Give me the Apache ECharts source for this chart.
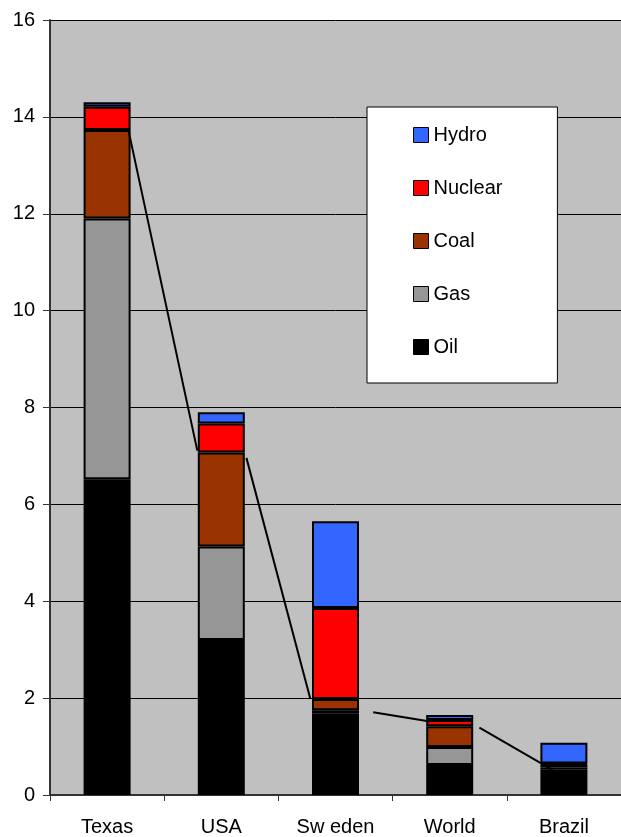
<!DOCTYPE html>
<html>
<head>
<meta charset="utf-8">
<script src="https://cdn.jsdelivr.net/npm/echarts@6/dist/echarts.min.js"></script>
<style>
  html, body { margin: 0; padding: 0; background: #ffffff; }
  #chart { width: 621px; height: 837px; }
</style>
</head>
<body>
<div id="chart"></div>
<script>
// Energy mix per region, stacked from the bottom up
const regions = ['Texas', 'USA', 'Sweden', 'World', 'Brazil'];
const regionLabels = ['Texas', 'USA', 'Sw eden', 'World', 'Brazil'];

const oil     = [6.52, 3.20, 1.69, 0.62, 0.52];
const gas     = [5.38, 1.93, 0.06, 0.37, 0.05];
const coal    = [1.83, 1.94, 0.23, 0.43, 0.06];
const nuclear = [0.48, 0.60, 1.88, 0.13, 0.02];
const hydro   = [0.09, 0.23, 1.79, 0.10, 0.43];

const yTicks = [0, 2, 4, 6, 8, 10, 12, 14, 16];

// Connector strokes between neighbouring bars: [regionIndex, value] start and end
const connectorStart = [[0.19, 13.69], [1.22, 6.96], [2.33, 1.71], [3.26, 1.39]];
const connectorEnd   = [[0.79, 7.11], [1.78, 1.98], [2.80, 1.53], [3.90, 0.52]];

const seriesDefs = [
  { name: 'Oil', data: oil, color: '#000000' },
  { name: 'Gas', data: gas, color: '#969696' },
  { name: 'Coal', data: coal, color: '#993300' },
  { name: 'Nuclear', data: nuclear, color: '#ff0000' },
  { name: 'Hydro', data: hydro, color: '#3366ff' }
];

const font = "'Liberation Sans', Arial, sans-serif";

const barSeries = seriesDefs.map(d => ({
  name: d.name,
  type: 'bar',
  stack: 'mix',
  data: d.data,
  barWidth: 47,
  itemStyle: { color: d.color, borderColor: '#000000', borderWidth: 2 },
  emphasis: { disabled: true },
  z: 2
}));

const connectorSeries = connectorStart.map((s, i) => ({
  type: 'line',
  xAxisIndex: 1,
  data: [s, connectorEnd[i]],
  symbol: 'none',
  silent: true,
  lineStyle: { color: '#000000', width: 2 },
  z: 5
}));

const chart = echarts.init(document.getElementById('chart'), null, { renderer: 'canvas' });
chart.setOption({
  backgroundColor: '#ffffff',
  animation: false,
  textStyle: { fontFamily: font },
  grid: {
    left: 50, top: 20, right: -4, bottom: 41,
    show: true, backgroundColor: '#c0c0c0', borderWidth: 0
  },
  legend: {
    data: ['Hydro', 'Nuclear', 'Coal', 'Gas', 'Oil'],
    orient: 'vertical',
    left: 367, top: 107,
    padding: [18, 55, 26, 46],
    itemWidth: 15, itemHeight: 15,
    itemGap: 33,
    icon: 'rect',
    backgroundColor: '#ffffff',
    borderColor: '#000000',
    borderWidth: 1,
    itemStyle: { borderColor: '#000000', borderWidth: 1 },
    textStyle: { fontFamily: font, fontSize: 20, color: '#000000', lineHeight: 20 },
    selectedMode: false
  },
  xAxis: [
    {
      type: 'category',
      data: regions,
      boundaryGap: true,
      axisLine: { lineStyle: { color: '#333333', width: 2 } },
      axisTick: { show: true, length: 6, lineStyle: { color: '#333333', width: 1 } },
      axisLabel: {
        margin: 22, fontSize: 20, color: '#000000', fontFamily: font,
        formatter: (v, i) => regionLabels[i]
      },
      splitLine: { show: false }
    },
    {
      type: 'value',
      min: -0.5, max: regions.length - 0.5,
      show: false
    }
  ],
  yAxis: {
    type: 'value',
    min: yTicks[0], max: yTicks[yTicks.length - 1], interval: 2,
    axisLine: { show: true, onZero: false, lineStyle: { color: '#333333', width: 2 } },
    axisTick: { show: true, length: 7, lineStyle: { color: '#333333' } },
    axisLabel: { margin: 15, fontSize: 20, color: '#000000', fontFamily: font },
    splitLine: { show: true, lineStyle: { color: '#000000', width: 1 } }
  },
  series: barSeries.concat(connectorSeries)
});
</script>
</body>
</html>
